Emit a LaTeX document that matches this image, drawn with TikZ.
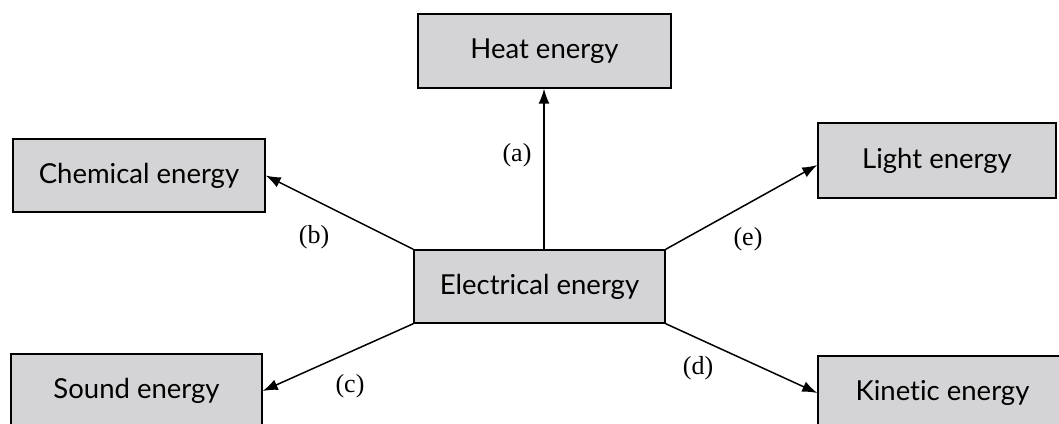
\documentclass[tikz,border=0pt]{standalone}
\usepackage{fontspec}
\setmainfont[Ligatures=NoCommon]{Lato}
\newfontfamily\labelfont{Liberation Serif}
\usetikzlibrary{arrows.meta}
\definecolor{boxgray}{HTML}{D4D4D6}
\tikzset{
  ebox/.style={draw=black, line width=1.4pt, fill=boxgray, anchor=center,
    inner sep=0pt, font=\fontsize{27.5}{30}\selectfont},
  conn/.style={line width=1.5pt, -{Latex[length=15pt,width=11pt]}},
  lbl/.style={font=\labelfont\fontsize{26}{28}\selectfont, inner sep=0pt}
}
\begin{document}
\begin{tikzpicture}[x=1pt,y=-1pt]
\useasboundingbox (0,0) rectangle (1059,423);
\node[ebox, minimum width=253pt, minimum height=74pt] (heat) at (544.5,51) {Heat energy};
\node[ebox, minimum width=252pt, minimum height=73pt] (chem) at (139,175.5) {Chemical energy};
\node[ebox, minimum width=238pt, minimum height=75pt] (light) at (937,160.5) {Light energy};
\node[ebox, minimum width=251pt, minimum height=73pt] (elec) at (539.5,286.5) {Electrical energy};
\node[ebox, minimum width=251pt, minimum height=74pt] (sound) at (136.5,391) {Sound energy};
\node[ebox, minimum width=249pt, minimum height=74pt] (kin) at (942.5,393) {Kinetic energy};
\coordinate (etop) at (544,250);
\draw[conn] (etop) -- (heat.south -| etop);
\draw[conn] (elec.north west) -- (chem.east);
\draw[conn] (elec.south west) -- (sound.east);
\draw[conn] (elec.south east) -- (kin.west);
\draw[conn] (elec.north east) -- ([yshift=-4.5pt]light.west);
\node[lbl] (la) at (517,155) {(a)};
\node[lbl] (lb) at (314,237) {(b)};
\node[lbl] (lc) at (350,386) {(c)};
\node[lbl] (ld) at (698,368) {(d)};
\node[lbl] (le) at (748,239) {(e)};
\end{tikzpicture}
\end{document}
